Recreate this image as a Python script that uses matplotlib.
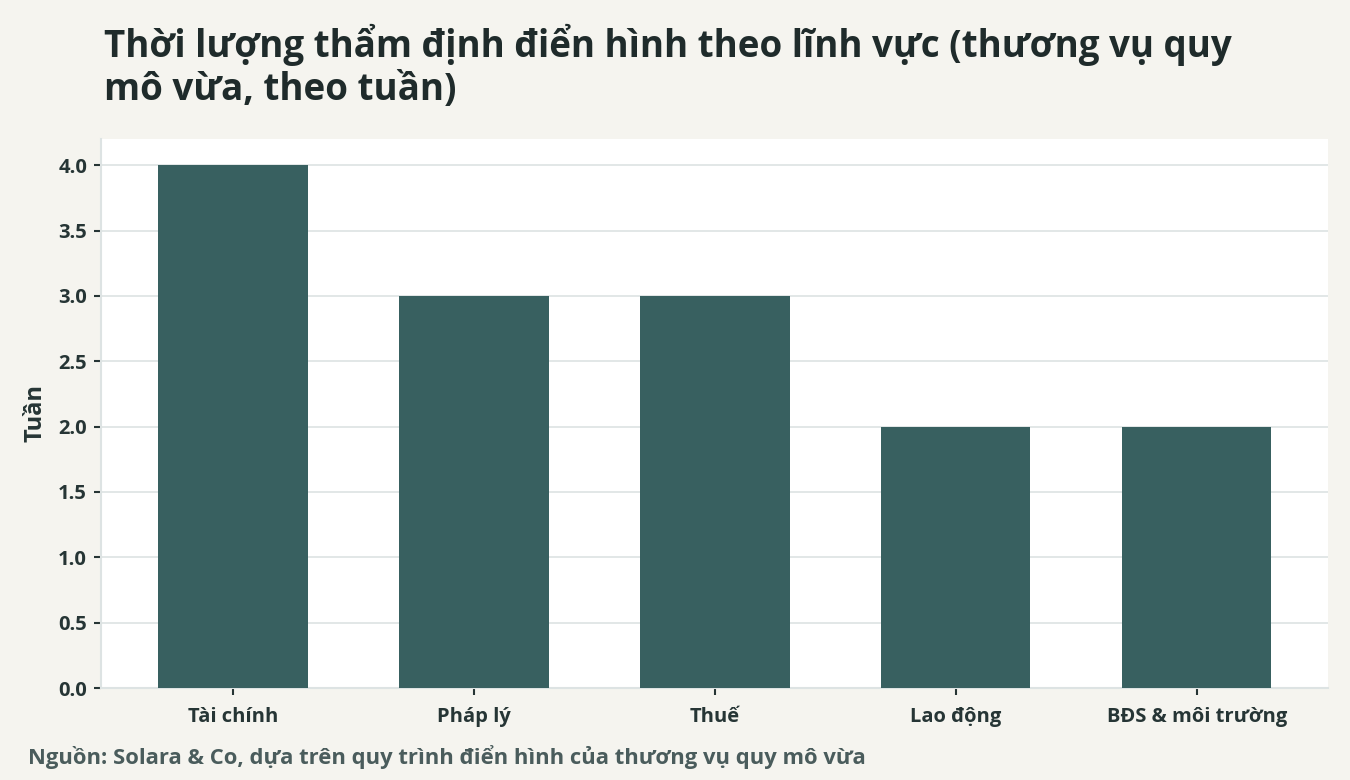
import matplotlib
matplotlib.use("Agg")
import matplotlib.pyplot as plt

categories = ["Tài chính", "Pháp lý", "Thuế", "Lao động", "BĐS & môi trường"]
weeks = [4.0, 3.0, 3.0, 2.0, 2.0]
yticks = [0.0, 0.5, 1.0, 1.5, 2.0, 2.5, 3.0, 3.5, 4.0]

title = "Thời lượng thẩm định điển hình theo lĩnh vực (thương vụ quy\nmô vừa, theo tuần)"
ylabel = "Tuần"
source = "Nguồn: Solara & Co, dựa trên quy trình điển hình của thương vụ quy mô vừa"

plt.rcParams['font.family'] = ['Open Sans', 'DejaVu Sans']

BG = "#f5f4ef"
BAR = "#386060"
TXT = "#263535"
GRID = "#dde3e3"

fig = plt.figure(figsize=(13.5, 7.8), dpi=100, facecolor=BG)
ax = fig.add_axes([101/1350, 1-688/780, (1328-101)/1350, (688-139)/780])
ax.set_facecolor("white")

x = list(range(len(categories)))
ax.bar(x, weeks, width=0.62, color=BAR, zorder=3)
ax.set_xlim(-0.548, 4.545)
ax.set_ylim(0, 4.2)
ax.set_yticks(yticks)
ax.set_yticklabels([f"{v:.1f}" for v in yticks])
ax.set_xticks(x)
ax.set_xticklabels(categories)
ax.grid(axis="y", color=GRID, linewidth=1.2, zorder=0)
ax.set_axisbelow(True)

for s in ["top", "right"]:
    ax.spines[s].set_visible(False)
for s in ["left", "bottom"]:
    ax.spines[s].set_color(GRID)
    ax.spines[s].set_linewidth(1.5)

ax.tick_params(axis="both", colors=TXT, labelsize=14.5, length=5, width=1.5)
for lbl in ax.get_xticklabels() + ax.get_yticklabels():
    lbl.set_fontweight("bold")
    lbl.set_color(TXT)
ax.tick_params(axis="x", pad=9)
ax.tick_params(axis="y", pad=5)

ax.set_ylabel(ylabel, fontsize=17, fontweight="bold", color=TXT, labelpad=8)

fig.text(104/1350, 1-24/780, title, fontsize=26.5, fontweight="bold", color="#1f2b2b",
         va="top", ha="left", linespacing=1.18)
fig.text(28/1350, 1-757/780, source, fontsize=15.8, fontweight="bold", color="#4a5c5c",
         va="center", ha="left")

fig.savefig("out.png", dpi=100, facecolor=BG)
